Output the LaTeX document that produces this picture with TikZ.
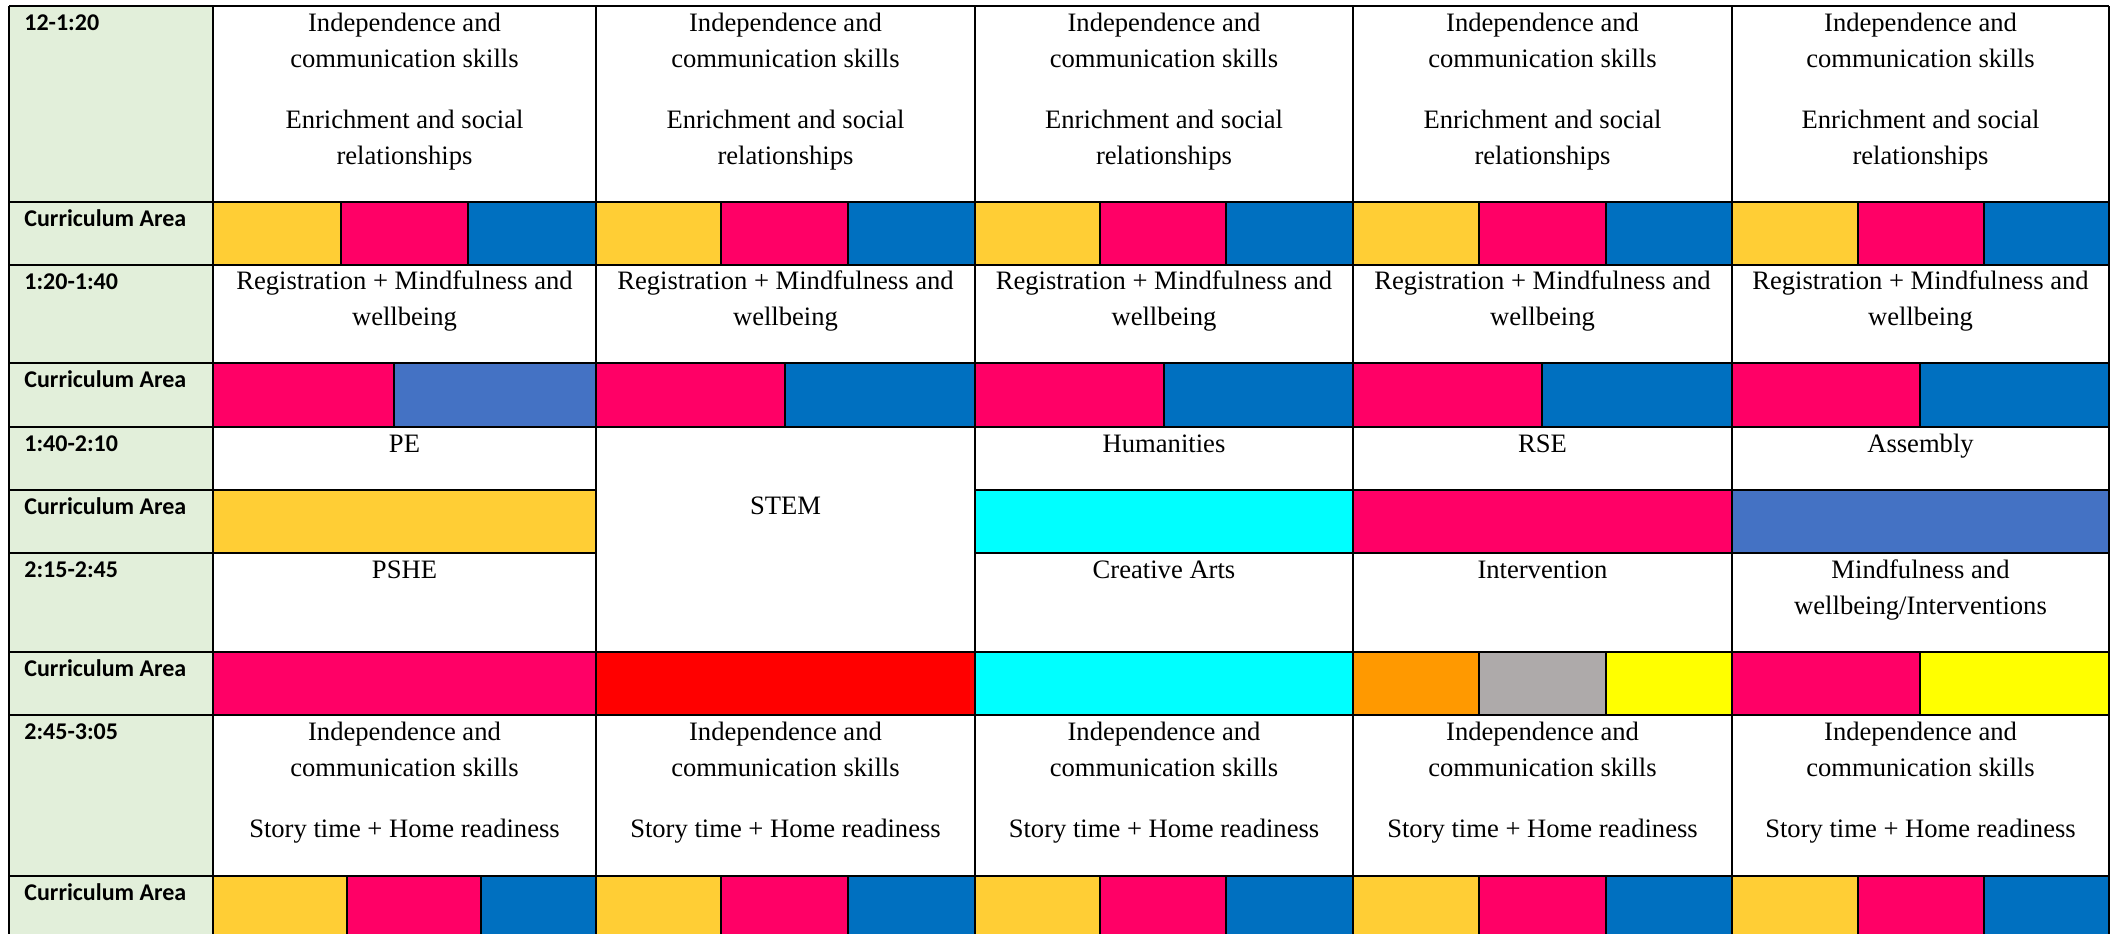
\documentclass[tikz,border=0pt]{standalone}
\usepackage{fontspec}
\setmainfont{Liberation Serif}
\newfontfamily\bodyfont{Liberation Serif}
\newfontfamily\lblfont{Carlito}
\definecolor{cgold}{HTML}{FFCE35}
\definecolor{cmag}{HTML}{FF0066}
\definecolor{cblue}{HTML}{0070C0}
\definecolor{cblueb}{HTML}{4472C4}
\definecolor{ccyan}{HTML}{00FFFF}
\definecolor{cred}{HTML}{FF0000}
\definecolor{corange}{HTML}{FF9900}
\definecolor{cgray}{HTML}{AEAAAA}
\definecolor{cyel}{HTML}{FFFF00}
\definecolor{cgreen}{HTML}{E2EFDA}
\begin{document}
\begin{tikzpicture}[x=0.5pt,y=-0.5pt,
  body/.style={anchor=base, inner sep=0pt, font=\bodyfont\fontsize{13.3}{16}\selectfont},
  lbl/.style={anchor=base west, inner sep=0pt, font=\lblfont\bfseries\fontsize{12}{14}\selectfont},
  grid/.style={line width=1.2pt, black},
  sub/.style={line width=0.9pt, black}]
\useasboundingbox (0,0) rectangle (2114,934);
\fill[white] (0,0) rectangle (2114,934);
% label column
\fill[cgreen] (9,6) rectangle (213,934);
% ---- curriculum row 1 (202-265)
\foreach \a/\b/\c/\d in {213/341/468/596, 596/721/848/975, 975/1100/1226/1353, 1353/1479/1606/1732, 1732/1858/1984/2109}{
  \fill[cgold] (\a,202) rectangle (\b,265);
  \fill[cmag] (\b,202) rectangle (\c,265);
  \fill[cblue] (\c,202) rectangle (\d,265);
}
% ---- curriculum row 2 (363-427)
\fill[cmag] (213,363) rectangle (394,427);
\fill[cblueb] (394,363) rectangle (596,427);
\foreach \a/\b/\d in {596/785/975, 975/1164/1353, 1353/1542/1732, 1732/1920/2109}{
  \fill[cmag] (\a,363) rectangle (\b,427);
  \fill[cblue] (\b,363) rectangle (\d,427);
}
% ---- curriculum row 3 (490-553)
\fill[cgold] (213,490) rectangle (596,553);
\fill[ccyan] (975,490) rectangle (1353,553);
\fill[cmag] (1353,490) rectangle (1732,553);
\fill[cblueb] (1732,490) rectangle (2109,553);
% ---- curriculum row 4 (652-715)
\fill[cmag] (213,652) rectangle (596,715);
\fill[cred] (596,652) rectangle (975,715);
\fill[ccyan] (975,652) rectangle (1353,715);
\fill[corange] (1353,652) rectangle (1479,715);
\fill[cgray] (1479,652) rectangle (1606,715);
\fill[cyel] (1606,652) rectangle (1732,715);
\fill[cmag] (1732,652) rectangle (1920,715);
\fill[cyel] (1920,652) rectangle (2109,715);
% ---- curriculum row 5 (876-934)
\foreach \a/\b/\c/\d in {213/347/481/596, 596/721/848/975, 975/1100/1226/1353, 1353/1479/1606/1732, 1732/1858/1984/2109}{
  \fill[cgold] (\a,876) rectangle (\b,934);
  \fill[cmag] (\b,876) rectangle (\c,934);
  \fill[cblue] (\c,876) rectangle (\d,934);
}
% ---- sub-cell dividers
\foreach \x in {341,468,721,848,1100,1226,1479,1606,1858,1984}{
  \draw[sub] (\x,202) -- (\x,265);
}
\foreach \x in {394,785,1164,1542,1920}{
  \draw[sub] (\x,363) -- (\x,427);
}
\foreach \x in {1479,1606,1920}{
  \draw[sub] (\x,652) -- (\x,715);
}
\foreach \x in {347,481,721,848,1100,1226,1479,1606,1858,1984}{
  \draw[sub] (\x,876) -- (\x,934);
}
% ---- main grid
\foreach \y in {6,202,265,363,427,652,715,876}{
  \draw[grid] (9,\y) -- (2109,\y);
}
\foreach \y in {490,553}{
  \draw[grid] (9,\y) -- (596,\y);
  \draw[grid] (975,\y) -- (2109,\y);
}
\foreach \x in {9,213,596,975,1353,1732,2109}{
  \draw[grid] (\x,6) -- (\x,934);
}
% ---- labels
\node[lbl] (l1) at (24,30) {12-1:20};
\node[lbl] (l2) at (24,226) {Curriculum Area};
\node[lbl] (l3) at (24,289) {1:20-1:40};
\node[lbl] (l4) at (24,387) {Curriculum Area};
\node[lbl] (l5) at (24,451) {1:40-2:10};
\node[lbl] (l6) at (24,514) {Curriculum Area};
\node[lbl] (l7) at (24,577) {2:15-2:45};
\node[lbl] (l8) at (24,676) {Curriculum Area};
\node[lbl] (l9) at (24,739) {2:45-3:05};
\node[lbl] (l10) at (24,900) {Curriculum Area};
% ---- repeated body text
\foreach \c [count=\i] in {404.5,785.5,1164,1542.5,1920.5}{
  \node[body] (a\i) at (\c,31) {Independence and};
  \node[body] (b\i) at (\c,67) {communication skills};
  \node[body] (c\i) at (\c,128) {Enrichment and social};
  \node[body] (d\i) at (\c,164) {relationships};
  \node[body] (e\i) at (\c,289.5) {Registration + Mindfulness and};
  \node[body] (f\i) at (\c,325.5) {wellbeing};
  \node[body] (g\i) at (\c,740) {Independence and};
  \node[body] (h\i) at (\c,776) {communication skills};
  \node[body] (k\i) at (\c,837) {Story time + Home readiness};
}
% ---- single cells
\node[body] (pe) at (404.5,452) {PE};
\node[body] (stem) at (785.5,514) {STEM};
\node[body] (hum) at (1164,452) {Humanities};
\node[body] (rse) at (1542.5,452) {RSE};
\node[body] (ass) at (1920.5,452) {Assembly};
\node[body] (pshe) at (404.5,578) {PSHE};
\node[body] (ca) at (1164,578) {Creative Arts};
\node[body] (int) at (1542.5,578) {Intervention};
\node[body] (mw1) at (1920.5,578) {Mindfulness and};
\node[body] (mw2) at (1920.5,614) {wellbeing/Interventions};
\end{tikzpicture}
\end{document}
